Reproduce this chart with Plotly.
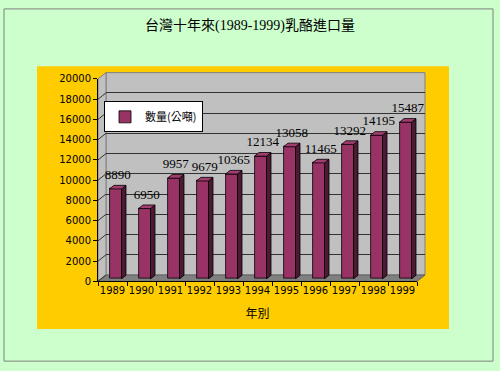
import plotly.graph_objects as go

# ---- data ----
years = ["1989", "1990", "1991", "1992", "1993", "1994", "1995", "1996", "1997", "1998", "1999"]
values = [8890, 6950, 9957, 9679, 10365, 12134, 13058, 11465, 13292, 14195, 15487]
series_name = "數量(公噸)"
title_text = "台灣十年來(1989-1999)乳酪進口量"
x_title = "年別"
y_ticks = list(range(0, 20001, 2000))
y_tick_text = [str(t) for t in y_ticks]

# ---- geometry (pixels) ----
W, H = 500, 371
YMAX = 20000
front = dict(x0=98, x1=417, ytop=76, ybot=284)      # front plane
depth = (8, 6.5)                                    # back wall offset (right, up)
bar_shift = (3, 2.5)                                # bar front face offset
bar_depth = (4.5, 3.7)                              # bar depth
label_gap_px = 3

def px(x):
    return x / W

def py(y):
    return (H - y) / H

n = len(years)
idx = list(range(n))
xr = (-0.5, n - 0.5)
unit_px_x = (front["x1"] - front["x0"]) / (xr[1] - xr[0])
unit_px_y = (front["ybot"] - front["ytop"]) / YMAX
ddx = bar_depth[0] / unit_px_x
ddy = bar_depth[1] / unit_px_y
gap_units = label_gap_px / unit_px_y
bw = 12 / unit_px_x

C_BAR = "#993366"
C_SIDE = "#4C1A33"
C_TOP = "#A33D70"

fig = go.Figure()

# back wall helper trace (for gridlines)
fig.add_trace(go.Scatter(x=[0], y=[0], xaxis="x2", yaxis="y2", mode="markers",
                         marker=dict(opacity=0), showlegend=False, hoverinfo="skip"))

# bars (front faces)
fig.add_trace(go.Bar(x=idx, y=values, xaxis="x3", yaxis="y3", name=series_name,
                     width=bw, marker=dict(color=C_BAR, line=dict(color="black", width=0.8)),
                     hoverinfo="skip"))

# data labels
fig.add_trace(go.Scatter(x=[i + ddx / 2 for i in idx], y=[v + ddy + gap_units for v in values],
                         xaxis="x3", yaxis="y3", mode="text",
                         text=[str(v) for v in values], textposition="top center",
                         textfont=dict(family="Liberation Serif", size=13, color="black"),
                         cliponaxis=False, showlegend=False, hoverinfo="skip"))

shapes = []
# outer border
shapes.append(dict(type="rect", xref="paper", yref="paper", x0=px(4), x1=px(493), y0=py(4), y1=py(366),
                   line=dict(color="#808080", width=1), fillcolor="rgba(0,0,0,0)", layer="below"))
# orange plot region
shapes.append(dict(type="rect", xref="paper", yref="paper", x0=px(37), x1=px(449), y0=py(63), y1=py(333),
                   line=dict(width=0), fillcolor="#FFCC00", layer="below"))
# back wall
bx0, bx1 = front["x0"] + depth[0], front["x1"] + depth[0]
byt, byb = front["ytop"] - depth[1], front["ybot"] - depth[1]
shapes.append(dict(type="rect", xref="paper", yref="paper", x0=px(bx0), x1=px(bx1), y0=py(byb), y1=py(byt),
                   line=dict(color="#808080", width=1), fillcolor="#C0C0C0", layer="below"))
# left side wall
path = "M {} {} L {} {} L {} {} L {} {} Z".format(
    px(front["x0"]), py(front["ytop"]), px(bx0), py(byt), px(bx0), py(byb), px(front["x0"]), py(front["ybot"]))
shapes.append(dict(type="path", xref="paper", yref="paper", path=path,
                   line=dict(color="#808080", width=1), fillcolor="#C0C0C0", layer="below"))
# floor
path = "M {} {} L {} {} L {} {} L {} {} Z".format(
    px(front["x0"]), py(front["ybot"]), px(front["x1"]), py(front["ybot"]),
    px(bx1), py(byb), px(bx0), py(byb))
shapes.append(dict(type="path", xref="paper", yref="paper", path=path,
                   line=dict(color="#606060", width=1), fillcolor="#808080", layer="below"))
# side wall gridlines
dy_units = depth[1] / unit_px_y
for t in y_ticks:
    shapes.append(dict(type="line", xref="paper", yref="y", x0=px(front["x0"]), x1=px(bx0),
                       y0=t, y1=t + dy_units, line=dict(color="#333333", width=1), layer="below"))
# bar side and top faces
for i, v in zip(idx, values):
    xl, xrt = i - bw / 2, i + bw / 2
    side = "M {} {} L {} {} L {} {} L {} {} Z".format(xrt, 0, xrt + ddx, ddy, xrt + ddx, v + ddy, xrt, v)
    top = "M {} {} L {} {} L {} {} L {} {} Z".format(xl, v, xrt, v, xrt + ddx, v + ddy, xl + ddx, v + ddy)
    shapes.append(dict(type="path", xref="x3", yref="y3", path=side, fillcolor=C_SIDE,
                       line=dict(color="black", width=0.8)))
    shapes.append(dict(type="path", xref="x3", yref="y3", path=top, fillcolor=C_TOP,
                       line=dict(color="black", width=0.8)))

tick_font = dict(family="DejaVu Sans", size=10, color="black")

fig.update_layout(
    width=W, height=H,
    margin=dict(l=0, r=0, t=0, b=0, pad=0),
    paper_bgcolor="#CCFFCC",
    plot_bgcolor="rgba(0,0,0,0)",
    title=dict(text=title_text, x=0.5, xanchor="center", y=py(25), yanchor="middle",
               font=dict(family="Liberation Serif, Noto Sans CJK TC", size=14, color="black")),
    shapes=shapes,
    bargap=0,
    showlegend=True,
    legend=dict(x=px(104), y=py(99), xanchor="left", yanchor="top",
                bgcolor="white", bordercolor="black", borderwidth=1,
                font=dict(family="Noto Sans CJK TC", size=11, color="black"),
                itemwidth=30, tracegroupgap=0),
    xaxis=dict(domain=[px(front["x0"]), px(front["x1"])], range=list(xr), anchor="y",
               tickmode="array", tickvals=idx, ticktext=years, ticks="",
               tickfont=tick_font, showgrid=False, zeroline=False,
               showline=True, linecolor="black", linewidth=1,
               minor=dict(tickmode="array", tickvals=[i - 0.5 for i in range(n + 1)],
                          ticks="outside", ticklen=4, tickcolor="black", showgrid=False),
               title=dict(text=x_title, standoff=14,
                          font=dict(family="Noto Sans CJK TC", size=12, color="black"))),
    yaxis=dict(domain=[py(front["ybot"]), py(front["ytop"])], range=[0, YMAX], anchor="x",
               tickmode="array", tickvals=y_ticks, ticktext=y_tick_text,
               ticks="outside", ticklen=4, tickcolor="black",
               tickfont=tick_font, showgrid=False, zeroline=False,
               showline=True, linecolor="black", linewidth=1),
    xaxis2=dict(domain=[px(bx0), px(bx1)], range=list(xr), anchor="y2",
                showgrid=False, showticklabels=False, zeroline=False, showline=False, ticks=""),
    yaxis2=dict(domain=[py(byb), py(byt)], range=[0, YMAX], anchor="x2",
                tickmode="array", tickvals=y_ticks, showgrid=True, gridcolor="#333333", gridwidth=1,
                showticklabels=False, zeroline=False, showline=False, ticks=""),
    xaxis3=dict(domain=[px(front["x0"] + bar_shift[0]), px(front["x1"] + bar_shift[0])],
                range=list(xr), anchor="y3", visible=False),
    yaxis3=dict(domain=[py(front["ybot"] - bar_shift[1]), py(front["ytop"] - bar_shift[1])],
                range=[0, YMAX], anchor="x3", visible=False),
)

fig.write_html("out.html")
